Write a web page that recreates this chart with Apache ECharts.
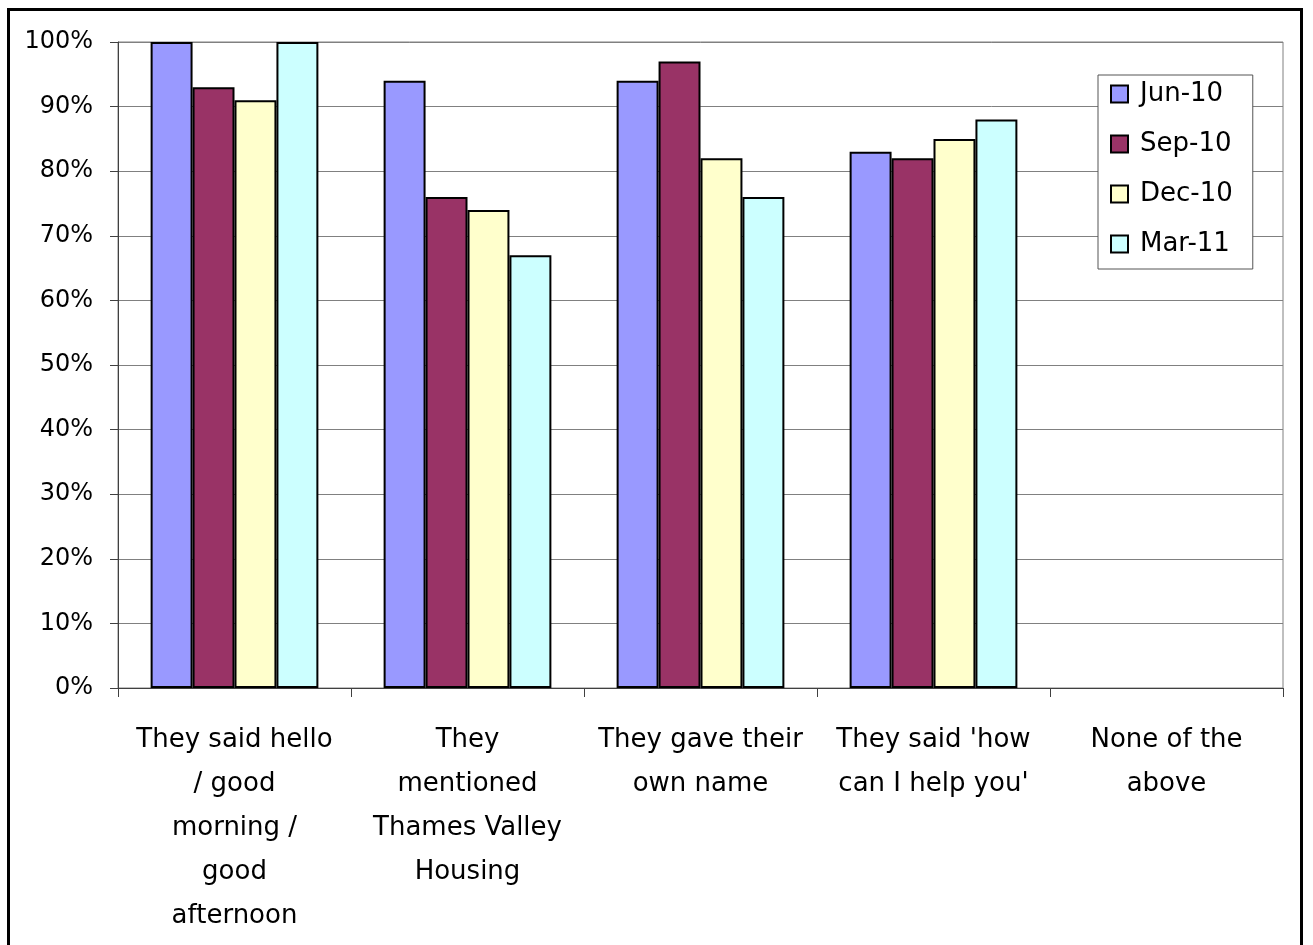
<!DOCTYPE html>
<html>
<head>
<meta charset="utf-8">
<script src="https://cdn.jsdelivr.net/npm/echarts@6/dist/echarts.min.js"></script>
<style>
  html, body { margin: 0; padding: 0; background: #fff; }
  #frame { position: absolute; left: 7px; top: 8px; width: 1296px; height: 960px; border: 3px solid #000; box-sizing: border-box; }
  #chart { position: absolute; left: 0; top: 0; width: 1313px; height: 945px; }
</style>
</head>
<body>
<div id="frame"></div>
<div id="chart"></div>
<script>
const categories = [
  'They said hello\n/ good\nmorning /\ngood\nafternoon',
  'They\nmentioned\nThames Valley\nHousing',
  'They gave their\nown name',
  "They said 'how\ncan I help you'",
  'None of the\nabove'
];
const seriesNames = ['Jun-10', 'Sep-10', 'Dec-10', 'Mar-11'];
const jun10 = [100, 94, 94, 83, 0];
const sep10 = [93, 76, 97, 82, 0];
const dec10 = [91, 74, 82, 85, 0];
const mar11 = [100, 67, 76, 88, 0];
const seriesColors = ['#9999FF', '#993366', '#FFFFCC', '#CCFFFF'];
const valueTicks = [0, 10, 20, 30, 40, 50, 60, 70, 80, 90, 100];

const fontFamily = '"DejaVu Sans", "Liberation Sans", sans-serif';
const chart = echarts.init(document.getElementById('chart'), null, { renderer: 'canvas' });
const values = [jun10, sep10, dec10, mar11];

// zero-height bars get no outline so an empty group stays blank
const toBarData = arr => arr.map(v => v === 0 ? { value: 0, itemStyle: { borderWidth: 0 } } : v);

chart.setOption({
  animation: false,
  textStyle: { fontFamily: fontFamily },
  grid: { left: 118, right: 30, top: 42, bottom: 257, show: true, borderColor: '#808080', borderWidth: 1 },
  legend: {
    orient: 'vertical',
    left: 1098,
    top: 75,
    padding: [6, 20, 12, 12],
    itemWidth: 17,
    itemHeight: 17,
    itemGap: 24,
    borderColor: '#555',
    borderWidth: 1,
    backgroundColor: '#fff',
    textStyle: { fontSize: 26, color: '#000', fontFamily: fontFamily, padding: [0, 0, 0, 7] },
    data: seriesNames.map(n => ({ name: n, icon: 'rect' }))
  },
  xAxis: {
    type: 'category',
    data: categories,
    axisLine: { lineStyle: { color: '#404040', width: 1 } },
    axisTick: { show: true, length: 9, lineStyle: { color: '#404040' } },
    axisLabel: { interval: 0, margin: 30, fontSize: 26, lineHeight: 44, color: '#000', align: 'center' }
  },
  yAxis: {
    type: 'value',
    min: 0,
    max: 100,
    interval: 10,
    axisLine: { show: true, lineStyle: { color: '#404040' } },
    axisTick: { show: true, length: 8, lineStyle: { color: '#404040' } },
    splitLine: { lineStyle: { color: '#808080', width: 1 } },
    axisLabel: {
      fontSize: 24, color: '#000', margin: 25,
      formatter: v => valueTicks.includes(v) ? v + '%' : ''
    }
  },
  series: seriesNames.map((name, i) => ({
    name: name,
    type: 'bar',
    data: toBarData(values[i]),
    barGap: '0%',
    barCategoryGap: '28%',
    itemStyle: { color: seriesColors[i], borderColor: '#000', borderWidth: 2 }
  }))
});
</script>
</body>
</html>
